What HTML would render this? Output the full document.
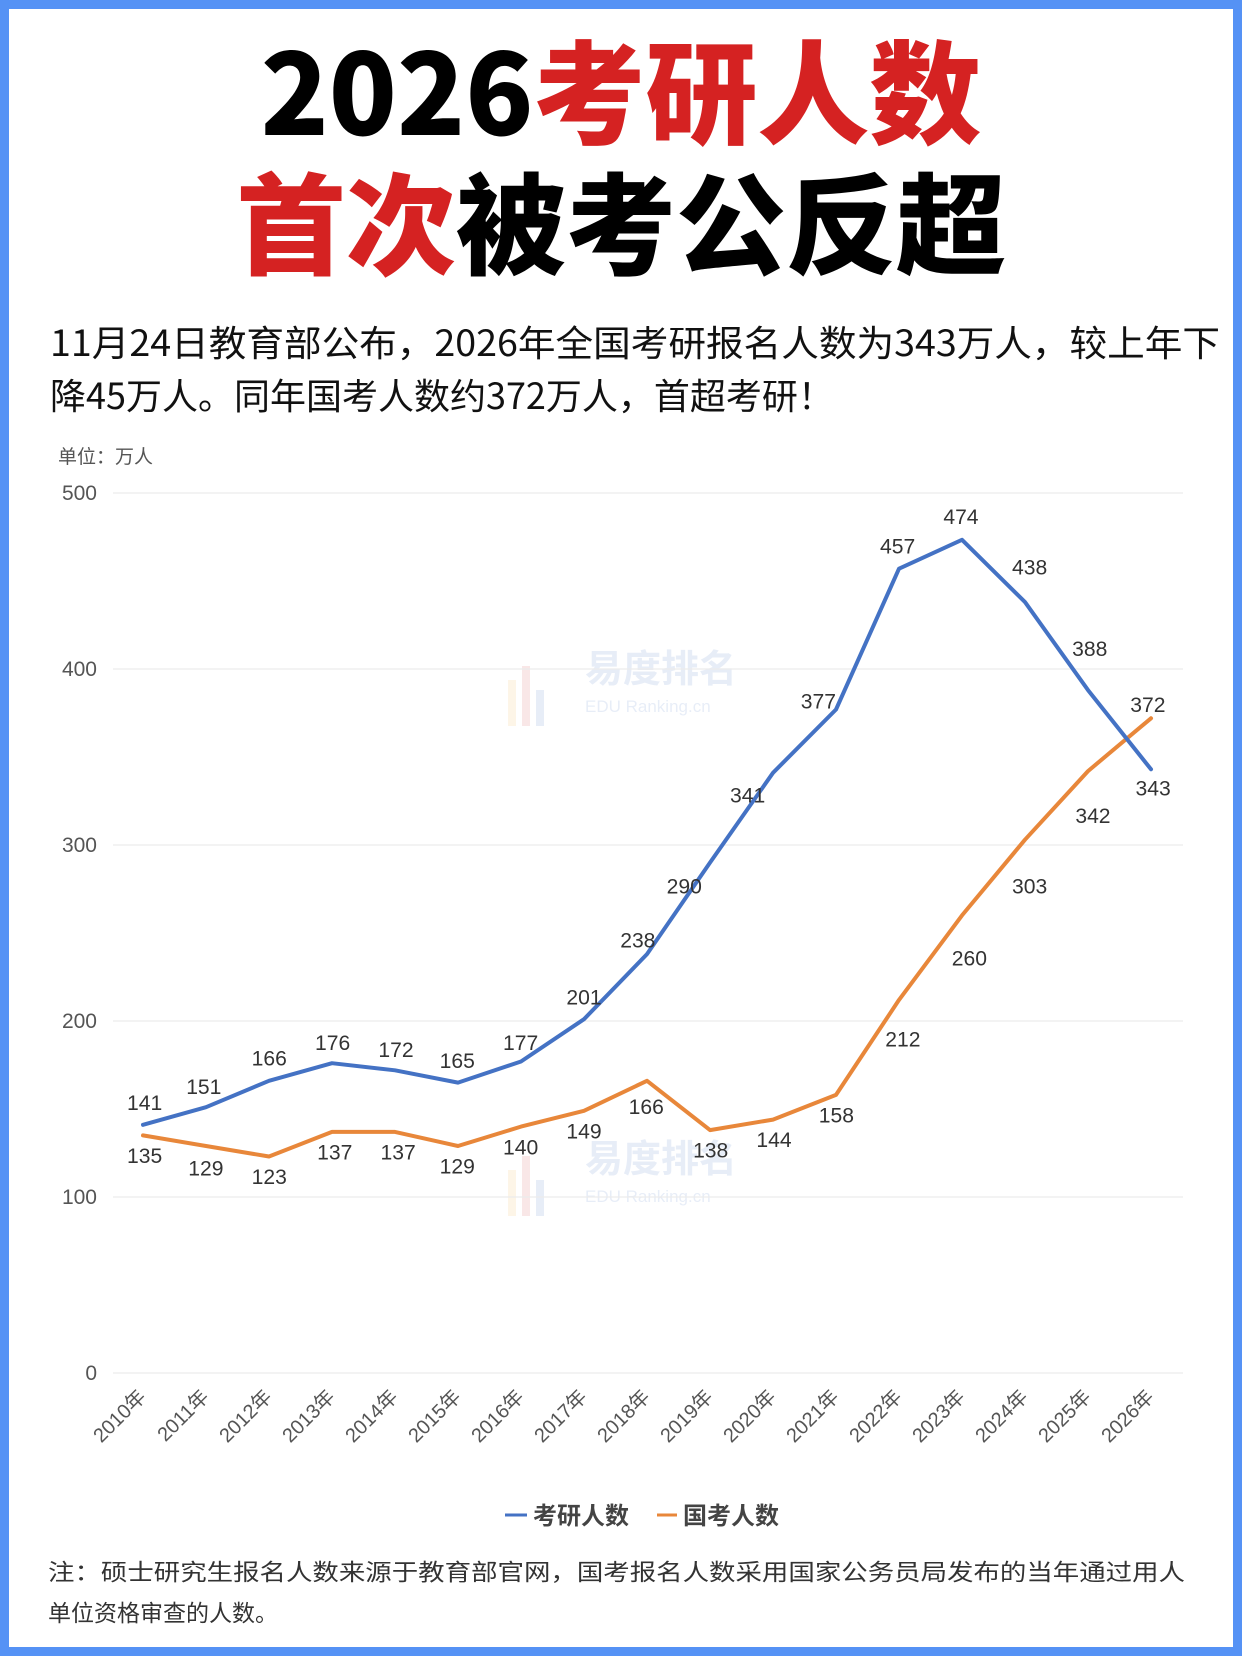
<!DOCTYPE html>
<html><head><meta charset="utf-8">
<style>
html,body{margin:0;padding:0;background:#fff;}
body{width:1242px;height:1656px;overflow:hidden;}
svg{display:block;}
text{font-family:"Liberation Sans","Noto Sans CJK SC",sans-serif;}
.cjk{font-family:"Noto Sans CJK SC","Liberation Sans",sans-serif;}
</style></head><body>
<svg width="1242" height="1656" viewBox="0 0 1242 1656" xmlns="http://www.w3.org/2000/svg">
<rect x="0" y="0" width="1242" height="1656" fill="#5592f5"/>
<rect x="9" y="9" width="1224" height="1638" fill="#fff"/>

<text class="cjk" x="621" y="135" text-anchor="middle" font-size="112" font-weight="900" fill="#000">2026<tspan fill="#d52222">考研人数</tspan></text>
<text class="cjk" x="621" y="266" text-anchor="middle" font-size="110" font-weight="900" fill="#000"><tspan fill="#d52222">首次</tspan>被考公反超</text>

<text class="cjk" x="50" y="356" font-size="36" fill="#111" textLength="1170" lengthAdjust="spacingAndGlyphs">11月24日教育部公布，2026年全国考研报名人数为343万人，较上年下</text>
<text class="cjk" x="50" y="409" font-size="36" fill="#111">降45万人。同年国考人数约372万人，首超考研！</text>

<text class="cjk" x="58" y="463" font-size="19" fill="#555">单位：万人</text>

<g opacity="0.12">
<text class="cjk" x="585" y="682" font-size="38" font-weight="bold" fill="#4472c4">易度排名</text>
<text x="585" y="712" font-size="17" fill="#4472c4">EDU Ranking.cn</text>
<text class="cjk" x="585" y="1172" font-size="38" font-weight="bold" fill="#4472c4">易度排名</text>
<text x="585" y="1202" font-size="17" fill="#4472c4">EDU Ranking.cn</text>
<rect x="508" y="680" width="8" height="46" fill="#f0b040"/><rect x="522" y="666" width="8" height="60" fill="#d54040"/><rect x="536" y="690" width="8" height="36" fill="#4472c4"/>
<rect x="508" y="1170" width="8" height="46" fill="#f0b040"/><rect x="522" y="1156" width="8" height="60" fill="#d54040"/><rect x="536" y="1180" width="8" height="36" fill="#4472c4"/>
</g>

<g stroke="#ececec" stroke-width="1.2">
<line x1="113" y1="493" x2="1183" y2="493"/>
<line x1="113" y1="669" x2="1183" y2="669"/>
<line x1="113" y1="845" x2="1183" y2="845"/>
<line x1="113" y1="1021" x2="1183" y2="1021"/>
<line x1="113" y1="1197" x2="1183" y2="1197"/>
<line x1="113" y1="1373" x2="1183" y2="1373"/>
</g>
<g font-size="21" fill="#555" text-anchor="end">
<text x="97" y="500">500</text>
<text x="97" y="676">400</text>
<text x="97" y="852">300</text>
<text x="97" y="1028">200</text>
<text x="97" y="1204">100</text>
<text x="97" y="1380">0</text>
</g>

<g class="cjk" font-size="20" fill="#555" text-anchor="end">
<text transform="translate(147,1398) rotate(-45)">2010年</text>
<text transform="translate(210,1398) rotate(-45)">2011年</text>
<text transform="translate(273,1398) rotate(-45)">2012年</text>
<text transform="translate(336,1398) rotate(-45)">2013年</text>
<text transform="translate(399,1398) rotate(-45)">2014年</text>
<text transform="translate(462,1398) rotate(-45)">2015年</text>
<text transform="translate(525,1398) rotate(-45)">2016年</text>
<text transform="translate(588,1398) rotate(-45)">2017年</text>
<text transform="translate(651,1398) rotate(-45)">2018年</text>
<text transform="translate(714,1398) rotate(-45)">2019年</text>
<text transform="translate(777,1398) rotate(-45)">2020年</text>
<text transform="translate(840,1398) rotate(-45)">2021年</text>
<text transform="translate(903,1398) rotate(-45)">2022年</text>
<text transform="translate(966,1398) rotate(-45)">2023年</text>
<text transform="translate(1029,1398) rotate(-45)">2024年</text>
<text transform="translate(1092,1398) rotate(-45)">2025年</text>
<text transform="translate(1155,1398) rotate(-45)">2026年</text>
</g>

<polyline fill="none" stroke="#e8873a" stroke-width="4" stroke-linejoin="round" stroke-linecap="round"
points="143,1135.4 206,1146 269,1156.5 332,1131.9 395,1131.9 458,1146 521,1126.6 584,1110.8 647,1080.8 710,1130.1 773,1119.6 836,1094.9 899,999.9 962,915.4 1025,839.7 1088,771.1 1151,718.3"/>
<polyline fill="none" stroke="#4472c4" stroke-width="4" stroke-linejoin="round" stroke-linecap="round"
points="143,1124.8 206,1107.2 269,1080.8 332,1063.2 395,1070.3 458,1082.6 521,1061.5 584,1019.2 647,954.1 710,862.6 773,772.8 836,709.5 899,568.7 962,539.8 1025,602.1 1088,690.1 1151,769.3"/>

<g transform="scale(1.056)" font-size="20" fill="#333" text-anchor="middle" dominant-baseline="central">
<text x="137" y="1045">141</text><text x="193" y="1030">151</text><text x="255" y="1003">166</text>
<text x="315" y="988">176</text><text x="375" y="995">172</text><text x="433" y="1005">165</text>
<text x="493" y="988">177</text><text x="553" y="945">201</text><text x="604" y="891">238</text>
<text x="648" y="840">290</text><text x="708" y="754">341</text><text x="775" y="665">377</text>
<text x="850" y="518">457</text><text x="910" y="490">474</text><text x="975" y="538">438</text>
<text x="1032" y="615">388</text><text x="1092" y="747">343</text>
<text x="137" y="1095">135</text><text x="195" y="1107">129</text><text x="255" y="1115">123</text>
<text x="317" y="1092">137</text><text x="377" y="1092">137</text><text x="433" y="1105">129</text>
<text x="493" y="1087">140</text><text x="553" y="1072">149</text><text x="612" y="1049">166</text>
<text x="673" y="1090">138</text><text x="733" y="1080">144</text><text x="792" y="1057">158</text>
<text x="855" y="985">212</text><text x="918" y="908">260</text><text x="975" y="840">303</text>
<text x="1035" y="773">342</text><text x="1087" y="668">372</text>
</g>

<line x1="505" y1="1515" x2="527" y2="1515" stroke="#4472c4" stroke-width="3"/>
<text class="cjk" x="533" y="1524" font-size="24" font-weight="bold" fill="#444">考研人数</text>
<line x1="657" y1="1515" x2="677" y2="1515" stroke="#e8873a" stroke-width="3"/>
<text class="cjk" x="683" y="1524" font-size="24" font-weight="bold" fill="#444">国考人数</text>

<text class="cjk" x="48" y="1580" font-size="23" fill="#333" textLength="1137" lengthAdjust="spacingAndGlyphs">注：硕士研究生报名人数来源于教育部官网，国考报名人数采用国家公务员局发布的当年通过用人</text>
<text class="cjk" x="48" y="1621" font-size="23" fill="#333">单位资格审查的人数。</text>
</svg>
</body></html>
